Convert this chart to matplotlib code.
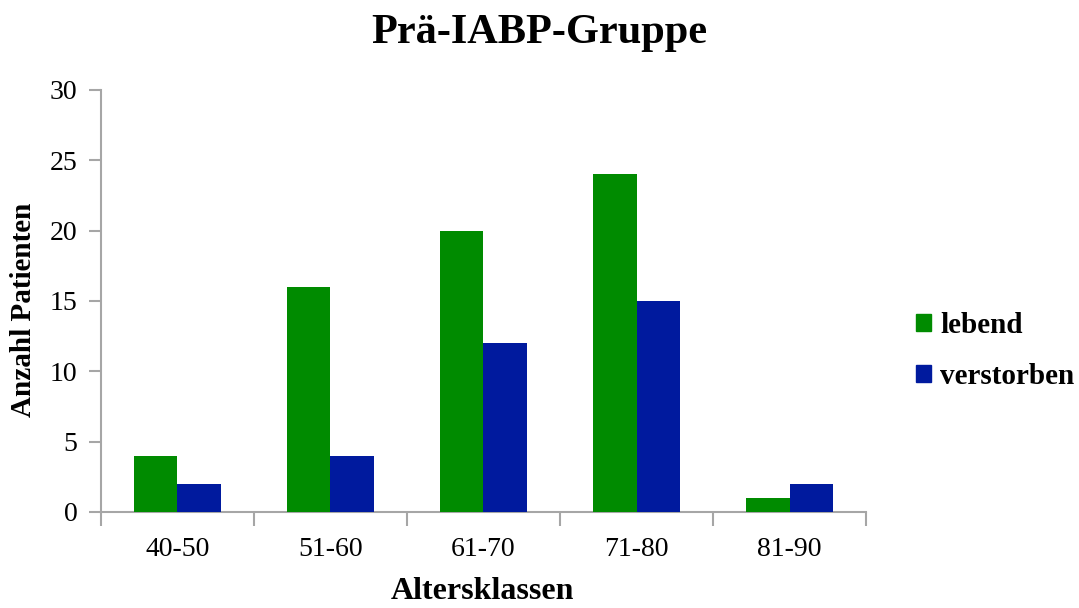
import matplotlib
matplotlib.use("Agg")
import matplotlib.pyplot as plt
import numpy as np
from matplotlib.patches import Patch

categories = ["40-50", "51-60", "61-70", "71-80", "81-90"]
lebend = [4, 16, 20, 24, 1]
verstorben = [2, 4, 12, 15, 2]
series_names = ["lebend", "verstorben"]
yticks = [0, 5, 10, 15, 20, 25, 30]

green = "#008b00"
blue = "#001a9e"
axis_grey = "#a6a6a6"
serif = "Liberation Serif"

fig = plt.figure(figsize=(10.79, 6.08), dpi=100)
ax = fig.add_axes([0.0936, 0.158, 0.709, 0.694])

x = np.arange(len(categories))
w = 0.285
ax.bar(x - w / 2, lebend, width=w, color=green, zorder=3)
ax.bar(x + w / 2, verstorben, width=w, color=blue, zorder=3)

ax.set_xlim(-0.5, len(categories) - 0.5)
ax.set_ylim(0, 30)
ax.set_yticks(yticks)
ax.set_yticklabels([str(t) for t in yticks], fontsize=20, family=serif)

# category labels centred, tick marks on the category boundaries
ax.set_xticks(x)
ax.set_xticklabels(categories, fontsize=20, family=serif)
ax.tick_params(axis="x", length=0, pad=18)
ax.set_xticks(np.arange(-0.5, len(categories)), minor=True)
ax.tick_params(axis="x", which="minor", length=10, width=1.5, color=axis_grey)
ax.tick_params(axis="y", length=9, width=1.5, color=axis_grey, pad=8)

for s in ["top", "right"]:
    ax.spines[s].set_visible(False)
for s in ["left", "bottom"]:
    ax.spines[s].set_color(axis_grey)
    ax.spines[s].set_linewidth(1.5)

fig.text(0.4996, 0.93, "Prä-IABP-Gruppe", ha="center", va="baseline",
         fontsize=30.5, fontweight="bold", family=serif)
fig.text(0.4475, 0.015, "Altersklassen", ha="center", va="baseline",
         fontsize=23, fontweight="bold", family=serif)
fig.text(0.022, 0.49, "Anzahl Patienten", ha="center", va="center",
         rotation=90, fontsize=21, fontweight="bold", family=serif)

handles = [Patch(color=green), Patch(color=blue)]
leg = fig.legend(handles, series_names, loc="center left",
                 bbox_to_anchor=(0.849, 0.4227), frameon=False,
                 borderaxespad=0, borderpad=0,
                 prop={"family": serif, "weight": "bold", "size": 21},
                 handlelength=0.52, handleheight=0.52, handletextpad=0.3,
                 labelspacing=0.8)

fig.savefig("out.png", dpi=100)
